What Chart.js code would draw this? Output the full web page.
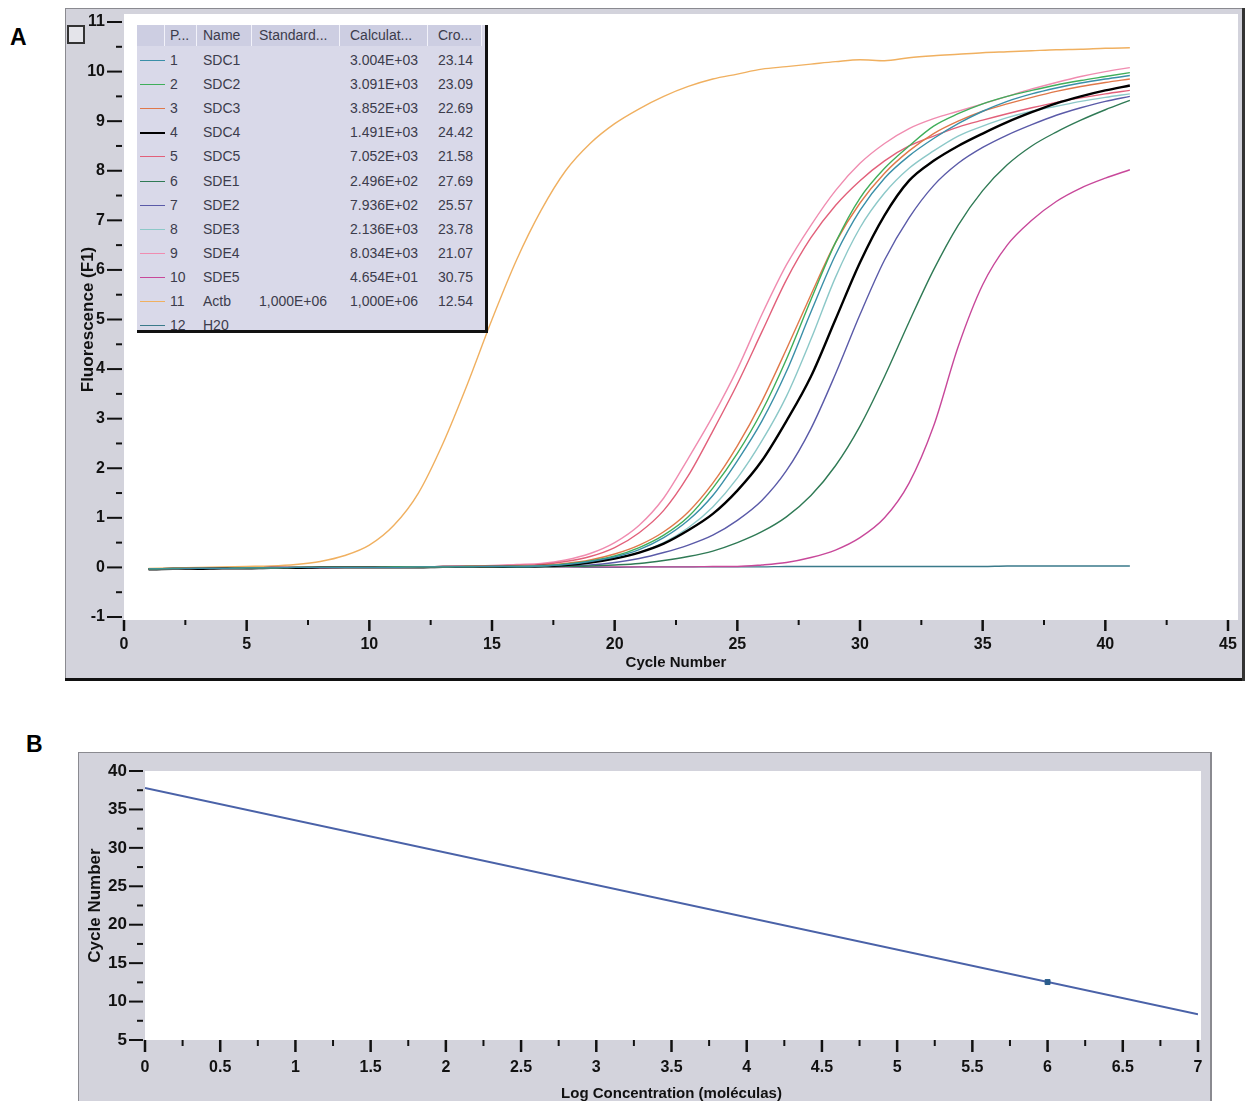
<!DOCTYPE html>
<html>
<head>
<meta charset="utf-8">
<script src="https://cdn.jsdelivr.net/npm/chart.js@4.4.1/dist/chart.umd.min.js"></script>
<style>
  body { margin: 0; background: #fff; width: 1247px; height: 1101px; position: relative; overflow: hidden; }
  .letter { position: absolute; font: bold 23px "Liberation Sans", Arial, sans-serif; color: #000; }
  #wrapA { position: absolute; left: 65px; top: 8px; width: 1180px; height: 673px; }
  #wrapB { position: absolute; left: 78px; top: 752px; width: 1134px; height: 349px; }
  #icon { position: absolute; left: 67px; top: 25px; width: 14px; height: 15px; border: 2px solid #333; background: #e4e4ea; }
  #runs { position: absolute; left: 137px; top: 25px; width: 348px; height: 305px; overflow: hidden;
          background: #d9d9e9; border-right: 3px solid #111; border-bottom: 3px solid #111;
          font: 14px "Liberation Sans Narrow", "Liberation Sans", Arial, sans-serif; color: #3c3c4c; }
  #runs .cell { position: absolute; white-space: nowrap; line-height: 20px; }
  #runs .hdr { position: absolute; top: 0; height: 21px; background: #cdcee2; border-right: 1px solid #f2f2fa; }
  #runs .sw { position: absolute; left: 3px; width: 25px; }
</style>
</head>
<body>
<div class="letter" style="left:10px;top:24px">A</div>
<div class="letter" style="left:26px;top:731px">B</div>
<div id="wrapA"><canvas id="chartA"></canvas></div>
<div id="icon"></div>
<div id="runs"></div>
<div id="wrapB"><canvas id="chartB"></canvas></div>
<script>
// amplification curves, fluorescence per cycle
const cycles = [1,2,3,4,5,6,7,8,9,10,11,12,13,14,15,16,17,18,19,20,21,22,23,24,25,26,27,28,29,30,31,32,33,34,35,36,37,38,39,40,41];

const SDC1 = [-0.03,-0.03,-0.02,-0.02,-0.01,-0.01,0,0,0,0,0,0.01,0.01,0.01,0.02,0.02,
  0.03,0.06,0.12,0.21,0.36,0.6,0.95,1.45,2.15,2.95,3.95,5.15,6.3,7.2,7.85,8.3,8.65,8.95,9.2,9.4,9.55,9.67,9.77,9.85,9.92];
const SDC2 = [-0.03,-0.02,-0.02,-0.02,-0.01,-0.01,0,0,0,0,0.01,0.01,0.01,0.02,0.02,0.02,
  0.03,0.07,0.13,0.23,0.4,0.65,1.02,1.6,2.3,3.15,4.2,5.4,6.55,7.45,8.05,8.5,8.9,9.15,9.35,9.5,9.62,9.73,9.82,9.9,9.98];
const SDC3 = [-0.03,-0.03,-0.02,-0.02,-0.01,-0.01,0,0,0,0,0,0.01,0.01,0.02,0.02,0.03,
  0.04,0.08,0.15,0.27,0.45,0.72,1.12,1.7,2.45,3.35,4.4,5.5,6.55,7.35,7.95,8.4,8.75,9.0,9.2,9.35,9.48,9.6,9.7,9.78,9.85];
const SDC4 = [-0.04,-0.03,-0.03,-0.02,-0.02,-0.01,-0.01,0,0,0,0,0,0.01,0.01,0.01,0.02,
  0.03,0.05,0.1,0.18,0.3,0.48,0.75,1.08,1.55,2.15,2.95,3.85,5.0,6.15,7.1,7.8,8.2,8.5,8.75,8.98,9.18,9.36,9.5,9.62,9.72];
const SDC5 = [-0.03,-0.02,-0.02,-0.01,-0.01,0,0,0,0,0,0.01,0.01,0.02,0.02,0.03,0.04,
  0.06,0.12,0.22,0.4,0.7,1.15,1.85,2.75,3.7,4.75,5.8,6.65,7.3,7.8,8.2,8.5,8.7,8.88,9.02,9.15,9.27,9.38,9.47,9.55,9.62];
const SDE1 = [-0.03,-0.03,-0.02,-0.02,-0.02,-0.01,-0.01,0,0,0,0,0,0,0.01,0.01,0.01,
  0.01,0.02,0.03,0.05,0.08,0.14,0.22,0.33,0.5,0.72,1.02,1.45,2.05,2.85,3.85,4.95,6.0,6.9,7.6,8.12,8.5,8.78,9.02,9.23,9.42];
const SDE2 = [-0.03,-0.03,-0.02,-0.02,-0.01,-0.01,-0.01,0,0,0,0,0,0.01,0.01,0.01,0.01,
  0.02,0.03,0.05,0.1,0.18,0.3,0.45,0.65,0.95,1.35,1.95,2.8,3.9,5.1,6.2,7.05,7.7,8.15,8.47,8.72,8.93,9.12,9.27,9.4,9.5];
const SDE3 = [-0.03,-0.02,-0.02,-0.02,-0.01,-0.01,0,0,0,0,0,0.01,0.01,0.01,0.01,0.02,
  0.02,0.05,0.1,0.18,0.3,0.5,0.8,1.22,1.8,2.55,3.45,4.6,5.85,6.85,7.55,8.05,8.4,8.7,8.9,9.07,9.2,9.3,9.4,9.48,9.55];
const SDE4 = [-0.03,-0.02,-0.02,-0.01,-0.01,0,0,0,0,0.01,0.01,0.01,0.02,0.03,0.04,0.06,
  0.08,0.15,0.28,0.5,0.85,1.4,2.2,3.05,4.0,5.1,6.1,6.9,7.6,8.15,8.55,8.85,9.05,9.2,9.35,9.5,9.65,9.78,9.9,10.0,10.08];
const SDE5 = [-0.03,-0.03,-0.02,-0.02,-0.02,-0.01,-0.01,-0.01,0,0,0,0,0,0,0,0.01,
  0.01,0.01,0.01,0.01,0.01,0.01,0.01,0.02,0.02,0.05,0.1,0.2,0.35,0.6,1.0,1.7,2.85,4.45,5.7,6.5,7.0,7.38,7.65,7.85,8.02];
const Actb = [-0.02,-0.01,0,0.01,0.02,0.03,0.06,0.12,0.24,0.45,0.85,1.5,2.5,3.7,5.0,6.2,
  7.2,8.0,8.55,8.95,9.25,9.5,9.7,9.85,9.95,10.05,10.1,10.15,10.2,10.24,10.22,10.28,10.32,10.35,10.38,10.4,10.42,10.44,10.45,10.47,10.48];
const H2O = [-0.03,-0.02,-0.02,-0.01,-0.01,-0.01,0,0,0,0,0,0,0,0,0.01,0.01,
  0.01,0.01,0,0,0.01,0.01,0.01,0.01,0.01,0.01,0.02,0.02,0.02,0.02,0.02,0.02,0.02,0.02,0.02,0.03,0.03,0.03,0.03,0.03,0.03];

// run table
const runPos = ['1','2','3','4','5','6','7','8','9','10','11','12'];
const runNames = ['SDC1','SDC2','SDC3','SDC4','SDC5','SDE1','SDE2','SDE3','SDE4','SDE5','Actb','H20'];
const runStandard = ['','','','','','','','','','','1,000E+06',''];
const runCalc = ['3.004E+03','3.091E+03','3.852E+03','1.491E+03','7.052E+03','2.496E+02','7.936E+02','2.136E+03','8.034E+03','4.654E+01','1,000E+06',''];
const runCt = ['23.14','23.09','22.69','24.42','21.58','27.69','25.57','23.78','21.07','30.75','12.54',''];
const runColors = ['#3a8fa8','#3fae5a','#e0784a','#000000','#e2607a','#2f7a55','#5a5aa8','#8cc8c8','#f08cb0','#c8489a','#f0b060','#3a7a8a'];
const runSeries = [SDC1, SDC2, SDC3, SDC4, SDC5, SDE1, SDE2, SDE3, SDE4, SDE5, Actb, H2O];

// standard curve
const logConc = [0, 7];
const fitCycle = [37.8, 8.35];
const stdLog = [6];
const stdCt = [12.54];

const FONT = '"Liberation Sans Narrow", "Liberation Sans", Arial, sans-serif';
Chart.defaults.font.family = FONT;
Chart.defaults.animation = false;

// grey window, white plot, tick marks of two lengths
const panelFrame = {
  id: 'panelFrame',
  beforeDraw(chart, args, o) {
    const { ctx, chartArea: a, width, height } = chart;
    ctx.save();
    ctx.fillStyle = '#d3d3dc';
    ctx.fillRect(0, 0, width, height);
    ctx.fillStyle = '#fff';
    ctx.fillRect(a.left, a.top - o.padTop, a.right - a.left + o.padRight, a.bottom - a.top + o.padTop + o.padBottom);
    ctx.restore();
  },
  afterDraw(chart, args, o) {
    const { ctx, chartArea: a, scales: { x, y }, width, height } = chart;
    ctx.save();
    ctx.strokeStyle = '#111';
    x.ticks.forEach(t => {
      const px = x.getPixelForValue(t.value);
      const major = t.label !== '';
      ctx.lineWidth = major ? 2.5 : 2;
      ctx.beginPath();
      ctx.moveTo(px, a.bottom + o.padBottom);
      ctx.lineTo(px, a.bottom + o.padBottom + (major ? o.xMajor : o.xMinor));
      ctx.stroke();
    });
    y.ticks.forEach(t => {
      const py = y.getPixelForValue(t.value);
      const major = t.label !== '';
      ctx.lineWidth = 2;
      ctx.beginPath();
      ctx.moveTo(a.left - 2, py);
      ctx.lineTo(a.left - 2 - (major ? o.yMajor : o.yMinor), py);
      ctx.stroke();
    });
    // window edges
    ctx.fillStyle = '#8a8a90';
    ctx.fillRect(0, 0, 1, height);
    ctx.fillRect(0, 0, width, 1);
    if (o.edges) {
      ctx.fillStyle = '#111';
      ctx.fillRect(0, height - 3, width, 3);
      ctx.fillStyle = '#333';
      ctx.fillRect(width - 3, 0, 3, height);
    } else {
      ctx.fillRect(width - 2, 0, 2, height);
    }
    ctx.restore();
  }
};

const tickFont = { size: 16, weight: 'bold', family: FONT };

const curveData = runSeries.map((s, i) => ({
  label: runNames[i],
  data: cycles.map((c, k) => ({ x: c, y: s[k] })),
  borderColor: runColors[i],
  borderWidth: runNames[i] === 'SDC4' ? 2.4 : 1.4,
  pointRadius: 0,
  cubicInterpolationMode: 'monotone',
  fill: false
}));

new Chart(document.getElementById('chartA'), {
  type: 'line',
  data: { datasets: curveData },
  options: {
    responsive: true,
    maintainAspectRatio: false,
    layout: { padding: { left: 0, right: 17, top: 14, bottom: 0 } },
    plugins: {
      legend: { display: false },
      tooltip: { enabled: false },
      panelFrame: { padTop: 8, padRight: 10, padBottom: 3, xMajor: 11, xMinor: 5, yMajor: 15, yMinor: 6, edges: true }
    },
    scales: {
      x: {
        type: 'linear', min: 0, max: 45,
        afterFit(s) { s.height = 64; },
        grid: { display: true, drawOnChartArea: false, drawTicks: true, tickLength: 14, color: 'transparent', tickColor: 'transparent' },
        border: { display: false },
        ticks: { stepSize: 2.5, autoSkip: false, maxRotation: 0, padding: 4, color: '#111', font: tickFont,
                 callback: v => (v % 5 === 0 ? String(v) : '') },
        title: { display: true, text: 'Cycle Number', color: '#111', font: { size: 15, weight: 'bold', family: FONT }, padding: { top: 0, bottom: 9 } }
      },
      y: {
        min: -1, max: 11,
        afterFit(s) { s.width = 59; },
        grid: { display: true, drawOnChartArea: false, drawTicks: true, tickLength: 16, color: 'transparent', tickColor: 'transparent' },
        border: { display: false },
        ticks: { stepSize: 0.5, autoSkip: false, padding: 3, color: '#111', font: tickFont,
                 callback: v => (Number.isInteger(v) ? String(v) : '') },
        title: { display: true, text: 'Fluorescence (F1)', color: '#111', font: { size: 17, weight: 'bold', family: FONT }, padding: { top: 13, bottom: 0 } }
      }
    }
  },
  plugins: [panelFrame]
});

// run table overlay
const runs = document.getElementById('runs');
const cols = [
  { left: 28, width: 32, head: 'P...', vals: runPos, pad: 5 },
  { left: 60, width: 55, head: 'Name', vals: runNames, pad: 6 },
  { left: 115, width: 88, head: 'Standard...', vals: runStandard, pad: 7 },
  { left: 203, width: 88, head: 'Calculat...', vals: runCalc, pad: 10 },
  { left: 291, width: 54, head: 'Cro...', vals: runCt, pad: 10 }
];
const hdr0 = document.createElement('div');
hdr0.className = 'hdr';
hdr0.style.left = '0px';
hdr0.style.width = '27px';
runs.appendChild(hdr0);
cols.forEach(c => {
  const h = document.createElement('div');
  h.className = 'hdr';
  h.style.left = c.left + 'px';
  h.style.width = (c.width - 1) + 'px';
  runs.appendChild(h);
  const ht = document.createElement('div');
  ht.className = 'cell';
  ht.style.left = (c.left + c.pad) + 'px';
  ht.style.top = '0px';
  ht.textContent = c.head;
  runs.appendChild(ht);
  c.vals.forEach((v, i) => {
    const d = document.createElement('div');
    d.className = 'cell';
    d.style.left = (c.left + c.pad) + 'px';
    d.style.top = (25 + i * 24.1) + 'px';
    d.textContent = v;
    runs.appendChild(d);
  });
});
runColors.forEach((col, i) => {
  const sw = document.createElement('div');
  sw.className = 'sw';
  sw.style.top = Math.round(35 + i * 24.1) + 'px';
  sw.style.borderTop = (i === 3 ? 2 : 1) + 'px solid ' + col;
  runs.appendChild(sw);
});

// standard curve panel
new Chart(document.getElementById('chartB'), {
  type: 'scatter',
  data: {
    datasets: [
      {
        data: stdLog.map((v, i) => ({ x: v, y: stdCt[i] })),
        pointStyle: 'rect', pointRadius: 3.5, backgroundColor: '#2b5d8c', borderColor: '#2b5d8c'
      },
      {
        data: logConc.map((v, i) => ({ x: v, y: fitCycle[i] })),
        showLine: true, borderColor: '#4a62a8', borderWidth: 2, pointRadius: 0
      }
    ]
  },
  options: {
    responsive: true,
    maintainAspectRatio: false,
    layout: { padding: { left: 0, right: 14, top: 19, bottom: 0 } },
    plugins: {
      legend: { display: false },
      tooltip: { enabled: false },
      panelFrame: { padTop: 0, padRight: 3, padBottom: 0, xMajor: 12, xMinor: 6, yMajor: 14, yMinor: 6, edges: false }
    },
    scales: {
      x: {
        type: 'linear', min: 0, max: 7,
        afterFit(s) { s.height = 61; },
        grid: { display: true, drawOnChartArea: false, drawTicks: true, tickLength: 14, color: 'transparent', tickColor: 'transparent' },
        border: { display: false },
        ticks: { stepSize: 0.25, autoSkip: false, maxRotation: 0, padding: 4, color: '#111', font: tickFont,
                 callback: v => (Math.abs(v * 2 - Math.round(v * 2)) < 1e-9 ? String(v) : '') },
        title: { display: true, text: 'Log Concentration (moléculas)', color: '#111', font: { size: 15, weight: 'bold', family: FONT }, padding: { top: 0, bottom: -2 } }
      },
      y: {
        min: 5, max: 40,
        afterFit(s) { s.width = 67; },
        grid: { display: true, drawOnChartArea: false, drawTicks: true, tickLength: 16, color: 'transparent', tickColor: 'transparent' },
        border: { display: false },
        ticks: { stepSize: 2.5, autoSkip: false, padding: 2, color: '#111', font: { size: 17, weight: 'bold', family: FONT },
                 callback: v => (v % 5 === 0 ? String(v) : '') },
        title: { display: true, text: 'Cycle Number', color: '#111', font: { size: 17, weight: 'bold', family: FONT }, padding: { top: 7, bottom: 0 } }
      }
    }
  },
  plugins: [panelFrame]
});
</script>
</body>
</html>
